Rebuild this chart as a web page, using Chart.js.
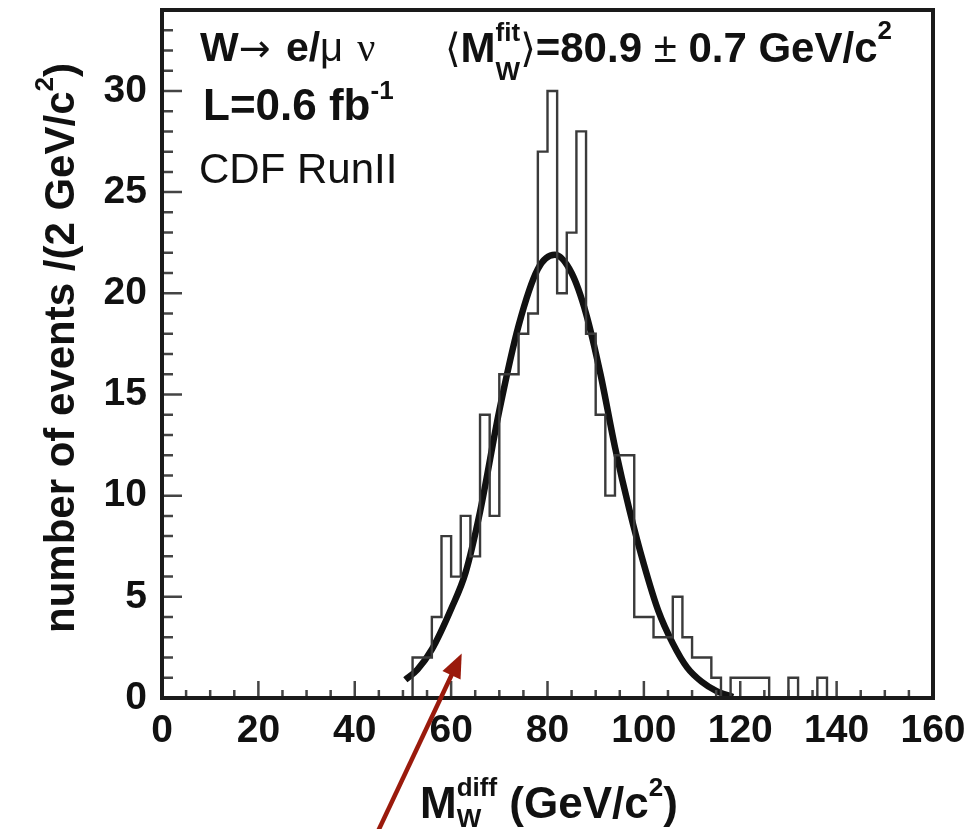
<!DOCTYPE html>
<html>
<head>
<meta charset="utf-8">
<script src="https://cdn.jsdelivr.net/npm/chart.js@4.4.0/dist/chart.umd.min.js"></script>
<style>
  html, body { margin: 0; padding: 0; background: #fff; }
  #wrap { width: 973px; height: 829px; }
</style>
</head>
<body>
<div id="wrap"><canvas id="massChart" width="973" height="829"></canvas></div>
<script>
// histogram: lower bin edges (GeV/c^2), 2 GeV/c^2 bins, and events per bin
const binLow = [52, 54, 56, 58, 60, 62, 64, 66, 68, 70, 72, 74, 76, 78, 80, 82, 84, 86, 88, 90, 92, 94,
                96, 98, 100, 102, 104, 106, 108, 110, 112, 114, 116, 118, 120, 122, 124, 126, 128, 130, 132, 134, 136];
const binWidth = 2;
const counts = [2, 2, 4, 8, 6, 9, 7, 14, 9, 16, 16, 18, 19, 27, 30, 20, 23, 28, 18, 14, 10, 12,
                12, 4, 4, 3, 3, 5, 3, 2, 2, 1, 0, 1, 1, 1, 1, 0, 0, 1, 0, 0, 1];

// gaussian fit curve
const fitX = [50.5, 53, 56, 60, 63, 66, 70, 74, 78, 81.5, 85, 88, 91, 94, 97, 100, 103, 106, 109, 112, 115, 118.5];
const fitY = [0.9, 1.4, 2.4, 4.4, 6.2, 9.2, 14.2, 18.4, 21.2, 21.9, 21.0, 19.0, 16.0, 12.4, 9.3, 6.6, 4.3, 2.7, 1.5, 0.8, 0.35, 0.05];

// axis ticks
const xTicks = [0, 20, 40, 60, 80, 100, 120, 140, 160];
const yTicks = [0, 5, 10, 15, 20, 25, 30];

const FONT = "'Liberation Sans', Arial, 'DejaVu Sans', sans-serif";
const SERIF = "'Liberation Serif', 'DejaVu Serif', serif";

const histPoints = [{ x: binLow[0], y: 0 }];
binLow.forEach((x, i) => histPoints.push({ x: x, y: counts[i] }));
histPoints.push({ x: binLow[binLow.length - 1] + binWidth, y: 0 });

const fitPoints = fitX.map((x, i) => ({ x: x, y: fitY[i] }));

// draws a row of text pieces with their own fonts / offsets
function drawRuns(ctx, x, y, runs) {
    runs.forEach(r => {
        if (r.stack) {
            ctx.font = r.stack[0].font;
            const w1 = ctx.measureText(r.stack[0].text).width;
            ctx.fillText(r.stack[0].text, x, y + r.stack[0].dy);
            ctx.font = r.stack[1].font;
            const w2 = ctx.measureText(r.stack[1].text).width;
            ctx.fillText(r.stack[1].text, x, y + r.stack[1].dy);
            x += Math.max(w1, w2) + (r.gap || 0);
            return;
        }
        ctx.font = r.font;
        ctx.fillText(r.text, x, y + (r.dy || 0));
        x += ctx.measureText(r.text).width + (r.gap || 0);
    });
}

function runsWidth(ctx, runs) {
    let w = 0;
    runs.forEach(r => {
        ctx.font = r.font;
        w += ctx.measureText(r.text).width + (r.gap || 0);
    });
    return w;
}

const decor = {
    id: 'decor',
    afterDraw(chart) {
        const { ctx, chartArea: a, scales: { x, y } } = chart;
        ctx.save();

        // inner tick marks
        ctx.strokeStyle = '#444';
        ctx.lineWidth = 2.5;
        ctx.beginPath();
        for (let v = 0; v <= 34; v++) {
            const len = v % 5 === 0 ? 20 : 11;
            const py = y.getPixelForValue(v);
            ctx.moveTo(a.left, py);
            ctx.lineTo(a.left + len, py);
        }
        for (let v = 0; v <= 160; v += 5) {
            const len = v % 20 === 0 ? 17 : 8;
            const px = x.getPixelForValue(v);
            ctx.moveTo(px, a.bottom);
            ctx.lineTo(px, a.bottom - len);
        }
        ctx.stroke();

        // frame
        ctx.strokeStyle = '#1a1a1a';
        ctx.lineWidth = 4;
        ctx.strokeRect(a.left, a.top, a.right - a.left, a.bottom - a.top);

        // red arrow
        const tx = x.getPixelForValue(62.2), ty = y.getPixelForValue(2.2);
        const sx = x.getPixelForValue(44.6), sy = y.getPixelForValue(-6.7);
        const ang = Math.atan2(ty - sy, tx - sx);
        ctx.strokeStyle = '#9a1a0c';
        ctx.fillStyle = '#9a1a0c';
        ctx.lineWidth = 4.5;
        ctx.beginPath();
        ctx.moveTo(sx, sy);
        ctx.lineTo(tx - 18 * Math.cos(ang), ty - 18 * Math.sin(ang));
        ctx.stroke();
        ctx.beginPath();
        ctx.moveTo(tx, ty);
        ctx.lineTo(tx - 24 * Math.cos(ang) + 10 * Math.sin(ang), ty - 24 * Math.sin(ang) - 10 * Math.cos(ang));
        ctx.lineTo(tx - 24 * Math.cos(ang) - 10 * Math.sin(ang), ty - 24 * Math.sin(ang) + 10 * Math.cos(ang));
        ctx.closePath();
        ctx.fill();

        // texts
        ctx.fillStyle = '#111';
        ctx.textAlign = 'left';
        ctx.textBaseline = 'alphabetic';
        const B = s => 'bold ' + s + 'px ' + FONT;
        const R = s => s + 'px ' + FONT;

        drawRuns(ctx, 200, 61, [
            { text: 'W', font: B(41) },
            { text: '\u2192', font: "38px 'DejaVu Sans', sans-serif", gap: 4 },
            { text: ' e/', font: B(41) },
            { text: '\u03bc', font: R(40) + ', ' + SERIF, gap: 4 },
            { text: ' \u03bd', font: '40px ' + SERIF }
        ]);
        drawRuns(ctx, 203, 120, [
            { text: 'L=0.6 fb', font: B(44) },
            { text: '-1', font: B(26), dy: -21 }
        ]);
        drawRuns(ctx, 199, 183, [{ text: 'CDF RunII', font: R(42) }]);

        drawRuns(ctx, 445, 62, [
            { text: '\u27e8', font: "40px 'DejaVu Sans', sans-serif" },
            { text: 'M', font: B(42) },
            { stack: [{ text: 'fit', font: B(26), dy: -21 }, { text: 'W', font: B(26), dy: 18 }] },
            { text: '\u27e9', font: "40px 'DejaVu Sans', sans-serif" },
            { text: '=80.9', font: B(42) },
            { text: ' \u00b1 ', font: R(42) },
            { text: '0.7 GeV/c', font: B(42) },
            { text: '2', font: B(26), dy: -23 }
        ]);

        // x title
        drawRuns(ctx, 420, 818, [
            { text: 'M', font: B(44) },
            { stack: [{ text: 'diff', font: B(26), dy: -22 }, { text: 'W', font: B(26), dy: 9 }] },
            { text: ' (GeV/c', font: B(44) },
            { text: '2', font: B(26), dy: -22 },
            { text: ')', font: B(44) }
        ]);

        // y title (rotated)
        const yRuns = [
            { text: 'number of events /(2 GeV/c', font: B(42) },
            { text: '2', font: B(26), dy: -21 },
            { text: ')', font: B(42) }
        ];
        const w = runsWidth(ctx, yRuns);
        ctx.translate(74, 348);
        ctx.rotate(-Math.PI / 2);
        drawRuns(ctx, -w / 2, 0, yRuns);

        ctx.restore();
    }
};

const ctx = document.getElementById('massChart').getContext('2d');
const massChart = new Chart(ctx, {
    type: 'line',
    data: {
        datasets: [{
            label: 'events',
            data: histPoints,
            stepped: true,
            borderColor: '#3a3a3a',
            borderWidth: 2.4,
            pointRadius: 0,
            fill: false
        }, {
            label: 'fit',
            data: fitPoints,
            borderColor: '#111',
            borderWidth: 6.5,
            cubicInterpolationMode: 'monotone',
            pointRadius: 0,
            fill: false
        }]
    },
    options: {
        responsive: false,
        devicePixelRatio: 1,
        animation: false,
        layout: { padding: { top: 10, right: 40, left: 0, bottom: 0 } },
        plugins: {
            legend: { display: false },
            tooltip: { enabled: false }
        },
        scales: {
            x: {
                type: 'linear',
                min: 0,
                max: 160,
                afterBuildTicks: s => { s.ticks = xTicks.map(v => ({ value: v })); },
                afterFit: s => { s.height = 131; s.paddingLeft = 0; s.paddingRight = 0; },
                grid: { display: false, drawTicks: false },
                border: { display: false },
                ticks: {
                    autoSkip: false,
                    maxRotation: 0,
                    padding: 10,
                    color: '#111',
                    font: { family: FONT, weight: 'bold', size: 39 }
                }
            },
            y: {
                type: 'linear',
                min: 0,
                max: 34,
                afterBuildTicks: s => { s.ticks = yTicks.map(v => ({ value: v })); },
                afterFit: s => { s.width = 162; s.paddingTop = 0; s.paddingBottom = 0; },
                grid: { display: false, drawTicks: false },
                border: { display: false },
                ticks: {
                    autoSkip: false,
                    padding: 15,
                    color: '#111',
                    font: { family: FONT, weight: 'bold', size: 39 }
                }
            }
        }
    },
    plugins: [decor]
});
</script>
</body>
</html>
